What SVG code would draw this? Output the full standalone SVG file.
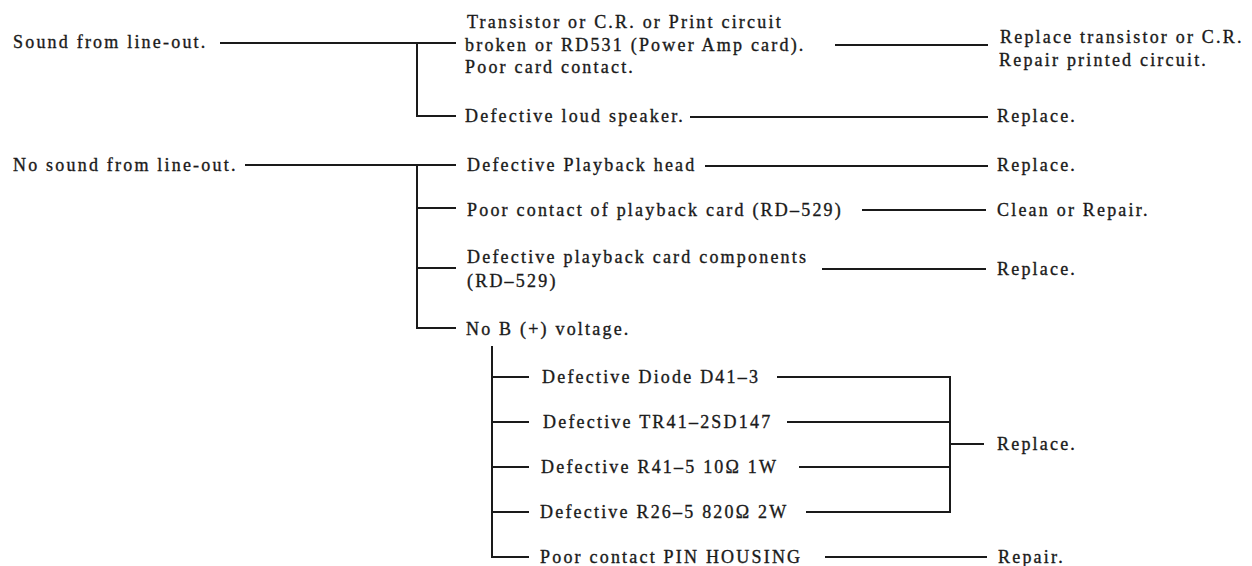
<svg xmlns="http://www.w3.org/2000/svg" width="1252" height="566" viewBox="0 0 1252 566">
<style>
text{font-family:"Liberation Serif","Times New Roman",serif;font-size:18px;letter-spacing:2.2px;fill:#1a1a1a;stroke:#1a1a1a;stroke-width:0.35px}
.c line{stroke:#1a1a1a;stroke-width:2;stroke-linecap:square}
</style>
<rect width="1252" height="566" fill="#fff"/>
<g class="c" id="connectors">
<line x1="221" y1="43" x2="455" y2="43"/>
<line x1="417" y1="43" x2="417" y2="116"/>
<line x1="417" y1="116" x2="455" y2="116"/>
<line x1="836" y1="45" x2="987" y2="45"/>
<line x1="691" y1="117" x2="987" y2="117"/>
<line x1="246" y1="165" x2="455" y2="165"/>
<line x1="417" y1="165" x2="417" y2="328"/>
<line x1="417" y1="208" x2="455" y2="208"/>
<line x1="417" y1="268" x2="455" y2="268"/>
<line x1="417" y1="328" x2="455" y2="328"/>
<line x1="706" y1="166" x2="987" y2="166"/>
<line x1="863" y1="210" x2="985" y2="210"/>
<line x1="823" y1="269" x2="985" y2="269"/>
<line x1="492" y1="347" x2="492" y2="557"/>
<line x1="492" y1="377" x2="528" y2="377"/>
<line x1="492" y1="422" x2="528" y2="422"/>
<line x1="492" y1="467" x2="528" y2="467"/>
<line x1="492" y1="512" x2="528" y2="512"/>
<line x1="492" y1="557" x2="528" y2="557"/>
<line x1="778" y1="377" x2="950" y2="377"/>
<line x1="788" y1="422" x2="950" y2="422"/>
<line x1="800" y1="467" x2="950" y2="467"/>
<line x1="807" y1="512" x2="950" y2="512"/>
<line x1="950" y1="377" x2="950" y2="512"/>
<line x1="950" y1="444" x2="983" y2="444"/>
<line x1="826" y1="557" x2="986" y2="557"/>
</g>
<g id="n-sound"><text x="13" y="48">Sound from line-out.</text></g>
<g id="n-transistor"><text x="467" y="28">Transistor or C.R. or Print circuit</text><text x="465" y="51">broken or RD531 (Power Amp card).</text><text x="465" y="73">Poor card contact.</text></g>
<g id="n-replace-tr"><text x="1000" y="43">Replace transistor or C.R.</text><text x="999" y="66">Repair printed circuit.</text></g>
<g id="n-speaker"><text x="465" y="122">Defective loud speaker.</text></g>
<g id="n-replace1"><text x="997" y="122">Replace.</text></g>
<g id="n-nosound"><text x="13" y="171">No sound from line-out.</text></g>
<g id="n-head"><text x="467" y="171">Defective Playback head</text></g>
<g id="n-replace2"><text x="997" y="171">Replace.</text></g>
<g id="n-contact"><text x="467" y="216">Poor contact of playback card (RD–529)</text></g>
<g id="n-clean"><text x="997" y="216">Clean or Repair.</text></g>
<g id="n-components"><text x="467" y="263">Defective playback card components</text><text x="467" y="287">(RD–529)</text></g>
<g id="n-replace3"><text x="997" y="275">Replace.</text></g>
<g id="n-novoltage"><text x="466" y="335">No B (+) voltage.</text></g>
<g id="n-diode"><text x="542" y="383">Defective Diode D41–3</text></g>
<g id="n-tr41"><text x="543" y="428">Defective TR41–2SD147</text></g>
<g id="n-r41"><text x="541" y="473">Defective R41–5 10Ω 1W</text></g>
<g id="n-r26"><text x="540" y="518">Defective R26–5 820Ω 2W</text></g>
<g id="n-replace4"><text x="997" y="450">Replace.</text></g>
<g id="n-pin"><text x="540" y="563">Poor contact PIN HOUSING</text></g>
<g id="n-repair"><text x="998" y="563">Repair.</text></g>
</svg>
